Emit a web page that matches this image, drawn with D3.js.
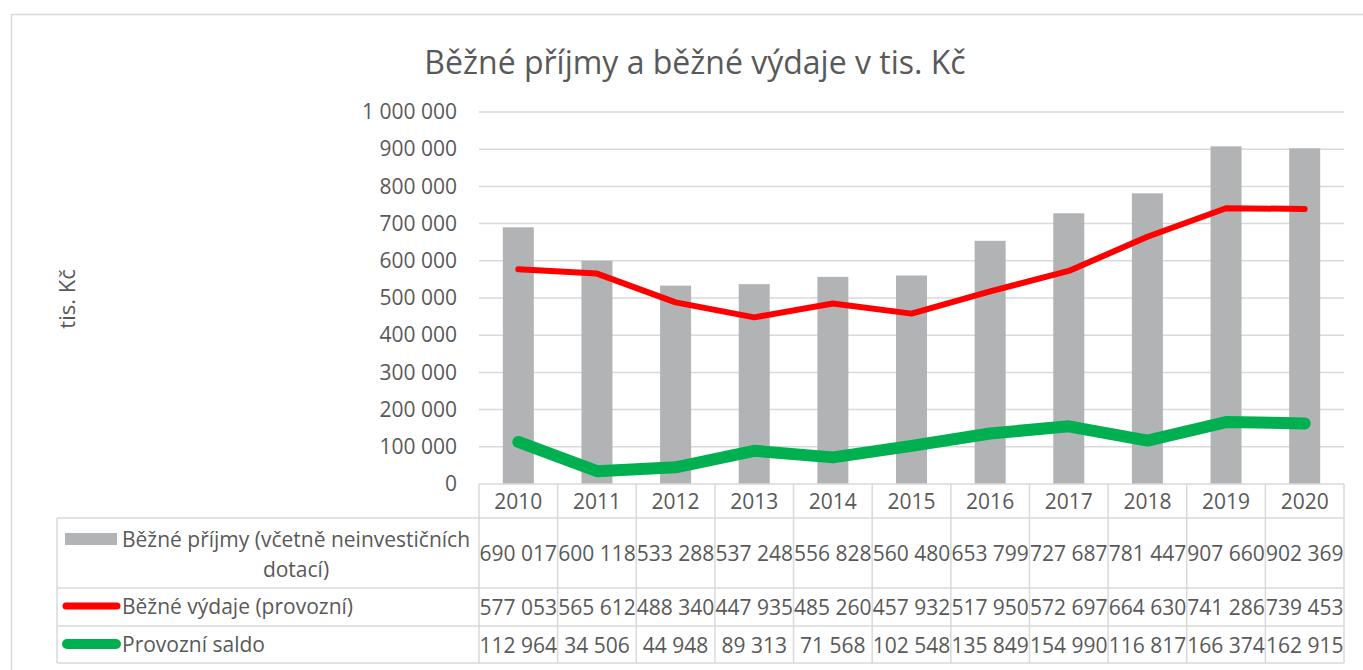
<!DOCTYPE html>
<html>
<head>
<meta charset="utf-8">
<script src="https://cdn.jsdelivr.net/npm/d3@7"></script>
<style>
  body { margin: 0; background: #fff; }
  text { font-family: "Open Sans", "Liberation Sans", sans-serif; fill: #595959; }
</style>
</head>
<body>
<div class="canvas"></div>
<script>
// data
const years = ['2010', '2011', '2012', '2013', '2014', '2015', '2016', '2017', '2018', '2019', '2020'];
const prijmy = [690017, 600118, 533288, 537248, 556828, 560480, 653799, 727687, 781447, 907660, 902369];
const vydaje = [577053, 565612, 488340, 447935, 485260, 457932, 517950, 572697, 664630, 741286, 739453];
const saldo = [112964, 34506, 44948, 89313, 71568, 102548, 135849, 154990, 116817, 166374, 162915];
const yTicks = [0, 100000, 200000, 300000, 400000, 500000, 600000, 700000, 800000, 900000, 1000000];

const seriesNames = ['Běžné příjmy (včetně neinvestičních dotací)', 'Běžné výdaje (provozní)', 'Provozní saldo'];

const dims = {width: 1363, height: 670};
const plot = {left: 479, right: 1344, top: 112, bottom: 484};
const rows = [484, 518, 588, 626, 663];
const tableLeft = 57;
const gridCol = '#d9d9d9';
const fs = '21px';

const svg = d3.select('.canvas')
    .append('svg')
    .attr('width', dims.width)
    .attr('height', dims.height);

// outer border
svg.append('rect')
    .attr('x', 11.5).attr('y', 14.5)
    .attr('width', dims.width).attr('height', dims.height)
    .attr('fill', 'none').attr('stroke', gridCol).attr('stroke-width', 1.5);

const x = d3.scaleBand().domain(years).range([plot.left, plot.right]);
const y = d3.scaleLinear().domain([0, 1000000]).range([plot.bottom, plot.top]);

const fmt = v => d3.format(',')(v).replace(/,/g, ' ');

// title
svg.append('text')
    .attr('x', 695).attr('y', 74)
    .attr('text-anchor', 'middle')
    .style('font-size', '32px')
    .text('Běžné příjmy a běžné výdaje v tis. Kč');

// y label
svg.append('text')
    .attr('transform', 'translate(75, 299) rotate(-90)')
    .attr('text-anchor', 'middle')
    .style('font-size', '22px')
    .text('tis. Kč');

// gridlines
svg.append('g').selectAll('line')
    .data(yTicks.filter(d => d > 0))
    .enter().append('line')
    .attr('x1', plot.left).attr('x2', plot.right)
    .attr('y1', d => y(d)).attr('y2', d => y(d))
    .attr('stroke', gridCol).attr('stroke-width', 1.5);

// y axis labels
const yAxis = d3.axisLeft(y).tickValues(yTicks).tickFormat(fmt).tickSize(0).tickPadding(22);
const yG = svg.append('g').attr('transform', `translate(${plot.left}, 0)`).call(yAxis);
yG.select('.domain').remove();
yG.selectAll('text').style('font-size', fs).attr('fill', '#595959');

// bars
const barW = 31;
svg.append('g').selectAll('rect')
    .data(prijmy)
    .enter().append('rect')
    .attr('x', (d, i) => x(years[i]) + x.bandwidth() / 2 - barW / 2)
    .attr('y', d => y(d))
    .attr('width', barW)
    .attr('height', d => plot.bottom - y(d))
    .attr('fill', '#b2b3b5');

// lines
const line = d3.line()
    .x((d, i) => x(years[i]) + x.bandwidth() / 2)
    .y(d => y(d));

svg.append('path')
    .datum(vydaje)
    .attr('d', line)
    .attr('fill', 'none').attr('stroke', '#ff0000')
    .attr('stroke-width', 6).attr('stroke-linecap', 'round').attr('stroke-linejoin', 'round');

svg.append('path')
    .datum(saldo)
    .attr('d', line)
    .attr('fill', 'none').attr('stroke', '#00b050')
    .attr('stroke-width', 12).attr('stroke-linecap', 'round').attr('stroke-linejoin', 'round');

// data table
const table = svg.append('g');

// horizontal lines
table.append('line')
    .attr('x1', plot.left).attr('x2', plot.right)
    .attr('y1', rows[0]).attr('y2', rows[0])
    .attr('stroke', gridCol).attr('stroke-width', 1.5);
table.selectAll('.hline')
    .data(rows.slice(1))
    .enter().append('line')
    .attr('x1', tableLeft).attr('x2', plot.right)
    .attr('y1', d => d).attr('y2', d => d)
    .attr('stroke', gridCol).attr('stroke-width', 1.5);

// vertical lines
const vx = years.map(yr => x(yr)).concat([plot.right]);
table.selectAll('.vline')
    .data(vx)
    .enter().append('line')
    .attr('x1', d => d).attr('x2', d => d)
    .attr('y1', rows[0]).attr('y2', rows[4])
    .attr('stroke', gridCol).attr('stroke-width', 1.5);
table.append('line')
    .attr('x1', tableLeft).attr('x2', tableLeft)
    .attr('y1', rows[1]).attr('y2', rows[4])
    .attr('stroke', gridCol).attr('stroke-width', 1.5);

// year header
table.selectAll('.year')
    .data(years)
    .enter().append('text')
    .attr('x', d => x(d) + x.bandwidth() / 2)
    .attr('y', (rows[0] + rows[1]) / 2 + 8)
    .attr('text-anchor', 'middle')
    .style('font-size', fs)
    .text(d => d);

// values
const rowData = [prijmy, vydaje, saldo];
rowData.forEach((vals, r) => {
    table.selectAll('.val' + r)
        .data(vals)
        .enter().append('text')
        .attr('x', (d, i) => x(years[i]) + x.bandwidth() / 2)
        .attr('y', (rows[r + 1] + rows[r + 2]) / 2 + 8)
        .attr('text-anchor', 'middle')
        .style('font-size', fs)
        .text(d => fmt(d));
});

// legend keys
table.append('rect')
    .attr('x', 65).attr('y', 533).attr('width', 52).attr('height', 12)
    .attr('fill', '#b2b3b5');
table.append('line')
    .attr('x1', 66).attr('x2', 117).attr('y1', 606).attr('y2', 606)
    .attr('stroke', '#ff0000').attr('stroke-width', 7).attr('stroke-linecap', 'round');
table.append('line')
    .attr('x1', 67).attr('x2', 116).attr('y1', 644).attr('y2', 644)
    .attr('stroke', '#00b050').attr('stroke-width', 10).attr('stroke-linecap', 'round');

// legend labels
table.append('text')
    .attr('x', 296).attr('y', 547)
    .attr('text-anchor', 'middle')
    .style('font-size', fs)
    .text('Běžné příjmy (včetně neinvestičních');
table.append('text')
    .attr('x', 296).attr('y', 577)
    .attr('text-anchor', 'middle')
    .style('font-size', fs)
    .text('dotací)');
table.append('text')
    .attr('x', 122).attr('y', 614)
    .style('font-size', fs)
    .text(seriesNames[1]);
table.append('text')
    .attr('x', 122).attr('y', 652)
    .style('font-size', fs)
    .text(seriesNames[2]);
</script>
</body>
</html>
